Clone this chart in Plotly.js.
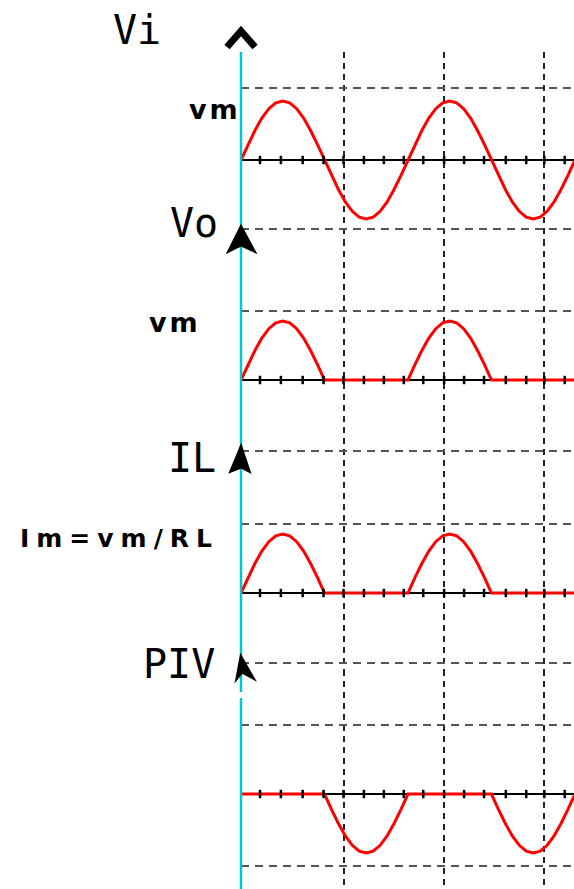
<!DOCTYPE html>
<html>
<head>
<meta charset="utf-8">
<script src="https://cdn.plot.ly/plotly-3.0.1.min.js"></script>
<style>html,body{margin:0;padding:0;background:#fff;}#chart{width:574px;height:889px;}</style>
</head>
<body>
<div id="chart"></div>
<script>
// phase angle (degrees)
const phase = [0,15,30,45,60,75,90,105,120,135,150,165,180,195,210,225,240,255,270,285,300,315,330,345,
               360,375,390,405,420,435,450,465,480,495,510,525,540,555,570,585,600,615,630,645,660,675,690,705,720];
// input voltage Vi (in units of Vm)
const vi  = [0,0.26,0.5,0.71,0.87,0.97,1,0.97,0.87,0.71,0.5,0.26,0,-0.26,-0.5,-0.71,-0.87,-0.97,-1,-0.97,-0.87,-0.71,-0.5,-0.26,
             0,0.26,0.5,0.71,0.87,0.97,1,0.97,0.87,0.71,0.5,0.26,0,-0.26,-0.5,-0.71,-0.87,-0.97,-1,-0.97,-0.87,-0.71,-0.5,-0.26,0];
// output voltage Vo (half-wave)
const vo  = [0,0.26,0.5,0.71,0.87,0.97,1,0.97,0.87,0.71,0.5,0.26,0,0,0,0,0,0,0,0,0,0,0,0,
             0,0.26,0.5,0.71,0.87,0.97,1,0.97,0.87,0.71,0.5,0.26,0,0,0,0,0,0,0,0,0,0,0,0,0];
// load current IL (in units of Im)
const il  = [0,0.26,0.5,0.71,0.87,0.97,1,0.97,0.87,0.71,0.5,0.26,0,0,0,0,0,0,0,0,0,0,0,0,
             0,0.26,0.5,0.71,0.87,0.97,1,0.97,0.87,0.71,0.5,0.26,0,0,0,0,0,0,0,0,0,0,0,0,0];
// diode reverse voltage (PIV)
const piv = [0,0,0,0,0,0,0,0,0,0,0,0,0,-0.26,-0.5,-0.71,-0.87,-0.97,-1,-0.97,-0.87,-0.71,-0.5,-0.26,
             0,0,0,0,0,0,0,0,0,0,0,0,0,-0.26,-0.5,-0.71,-0.87,-0.97,-1,-0.97,-0.87,-0.71,-0.5,-0.26,0];
// small tick marks on the time axis (degrees)
const tickX = [41,86,133,178,221,265,308,351,393,438,481,524,571,615,654,698];
const tickY = [0,0,0,0,0,0,0,0,0,0,0,0,0,0,0,0];
// vertical dashed grid (degrees)
const gridX = [221,438,654];
// panel labels
const panelLabels = ['Vi','Vo','IL','PIV'];
const levelLabels = ['vm','vm','Im=vm/RL'];

const series = [vi, vo, il, piv];
const ySuffix = ['', '2', '3', '4'];

const traces = [];
series.forEach((s, i) => {
  traces.push({x: phase, y: s, type: 'scatter', mode: 'lines',
    xaxis: 'x' + ySuffix[i], yaxis: 'y' + ySuffix[i],
    line: {color: '#ff0000', width: 3}, hoverinfo: 'skip'});
  traces.push({x: tickX, y: tickY, type: 'scatter', mode: 'markers',
    xaxis: 'x' + ySuffix[i], yaxis: 'y' + ySuffix[i],
    marker: {symbol: 'line-ns-open', size: 6, color: '#000', line: {color: '#000', width: 2.5}}, hoverinfo: 'skip'});
});

const H = 889;
const pf = p => 1 - p / H;         // pixel row -> paper fraction
const px = p => (p - 241) / 333;   // pixel column -> paper fraction of plot width
const xAx = {range: [0, 718], domain: [0, 1], showticklabels: false, ticks: '', showline: false, zeroline: false,
  tickvals: gridX, showgrid: true, gridcolor: '#222', gridwidth: 2, griddash: '6px,5px', fixedrange: true};
const yAx = (dom, rng, grid) => ({domain: dom, range: rng, tickvals: grid, showticklabels: false, ticks: '',
  showgrid: true, gridcolor: '#555', gridwidth: 2, griddash: '8px,6px', showline: false,
  zeroline: true, zerolinecolor: '#000', zerolinewidth: 2, fixedrange: true});

// decorative axis arrowheads, described in page pixels
const pathFrom = pts => pts.map((p, k) => (k ? 'L' : 'M') + px(p[0]).toFixed(5) + ',' + pf(p[1]).toFixed(5)).join(' ');
const arrowShapes = [
  {type: 'path', xref: 'paper', yref: 'paper', path: pathFrom([[227, 47], [241, 31], [255, 47]]),
   line: {color: '#000', width: 7}, layer: 'above'},
  {type: 'path', xref: 'paper', yref: 'paper', path: pathFrom([[241, 227], [254, 251], [241, 245], [229, 251]]) + ' Z',
   fillcolor: '#000', line: {color: '#000', width: 3}, layer: 'above'},
  {type: 'path', xref: 'paper', yref: 'paper', path: pathFrom([[241, 447], [249, 471], [241, 467], [231, 471]]) + ' Z',
   fillcolor: '#000', line: {color: '#000', width: 3}, layer: 'above'},
  {type: 'path', xref: 'paper', yref: 'paper', path: pathFrom([[241, 657], [253, 678], [242, 672], [237, 678]]) + ' Z',
   fillcolor: '#000', line: {color: '#000', width: 3}, layer: 'above'}
];

const layout = {
  width: 574, height: 889,
  margin: {l: 241, r: 0, t: 0, b: 0, pad: 0},
  paper_bgcolor: '#fff', plot_bgcolor: '#fff',
  showlegend: false,
  xaxis:  Object.assign({}, xAx, {anchor: 'y'}),
  xaxis2: Object.assign({}, xAx, {anchor: 'y2', matches: 'x'}),
  xaxis3: Object.assign({}, xAx, {anchor: 'y3', matches: 'x'}),
  xaxis4: Object.assign({}, xAx, {anchor: 'y4', matches: 'x'}),
  yaxis:  yAx([pf(240), pf(52)],  [-1.356, 1.831], [1.22, -1.169]),
  yaxis2: yAx([pf(460), pf(240)], [-1.356, 2.373], [1.169, -1.203]),
  yaxis3: yAx([pf(670), pf(460)], [-1.305, 2.254], [1.169, -1.186]),
  yaxis4: yAx([0, pf(670)],       [-1.610, 2.102], [1.169, -1.22]),
  shapes: [
    {type: 'line', xref: 'paper', yref: 'paper', x0: 0, x1: 0, y0: pf(692), y1: pf(52),
     line: {color: '#00c8d2', width: 2.5}, layer: 'above'},
    {type: 'line', xref: 'paper', yref: 'paper', x0: 0, x1: 0, y0: 0, y1: pf(698),
     line: {color: '#00c8d2', width: 2.5}, layer: 'above'}
  ].concat(arrowShapes),
  annotations: []
};

const bigFont = {family: 'DejaVu Sans Mono', size: 40, color: '#000'};
const labelPos = [[163, 30], [220, 223], [218, 458], [217, 664]];
panelLabels.forEach((t, i) => {
  layout.annotations.push({text: t, xref: 'paper', yref: 'paper', x: px(labelPos[i][0]), y: pf(labelPos[i][1]),
    xanchor: 'right', yanchor: 'middle', showarrow: false, font: bigFont});
});
const lvlPos = [[243, 110], [203, 322], [221, 538]];
const lvlSpacing = [3, 3, 7];
const lvlSize = [27, 27, 25];
levelLabels.forEach((t, i) => {
  layout.annotations.push({text: '<span style="letter-spacing:' + lvlSpacing[i] + 'px">' + t + '</span>',
    xref: 'paper', yref: 'paper', x: px(lvlPos[i][0]), y: pf(lvlPos[i][1]),
    xanchor: 'right', yanchor: 'middle', showarrow: false,
    font: {family: 'DejaVu Sans', size: lvlSize[i], color: '#000', weight: 'bold'}});
});

Plotly.newPlot('chart', traces, layout, {staticPlot: true, displayModeBar: false});
</script>
</body>
</html>
